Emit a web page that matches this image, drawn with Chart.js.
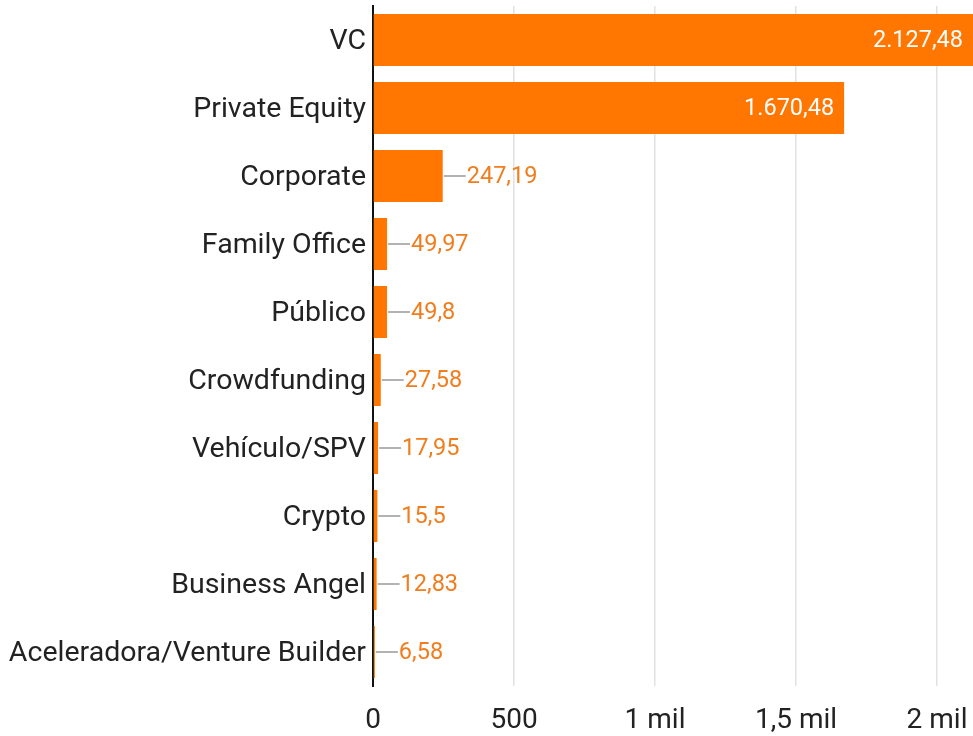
<!DOCTYPE html>
<html><head><meta charset="utf-8">
<script src="https://cdn.jsdelivr.net/npm/chart.js@4.4.1/dist/chart.umd.min.js"></script>
<style>html,body{margin:0;padding:0;background:#fff}#wrap{width:973px;height:736px;position:relative}</style>
</head><body><div id="wrap"><canvas id="c"></canvas></div>
<script>
const categories = ['VC','Private Equity','Corporate','Family Office','Público','Crowdfunding','Vehículo/SPV','Crypto','Business Angel','Aceleradora/Venture Builder'];
const values = [2127.48,1670.48,247.19,49.97,49.8,27.58,17.95,15.5,12.83,6.58];
const valueLabels = ['2.127,48','1.670,48','247,19','49,97','49,8','27,58','17,95','15,5','12,83','6,58'];
const tickValues = [0,500,1000,1500,2000];
const tickLabels = ['0','500','1 mil','1,5 mil','2 mil'];

const ORANGE = '#ff7700';
const FONT = 'Roboto';

const labelPlugin = {
  id: 'valLabels',
  afterDatasetsDraw(chart) {
    const ctx = chart.ctx;
    const meta = chart.getDatasetMeta(0);
    ctx.save();
    ctx.font = '23.5px ' + FONT;
    ctx.textBaseline = 'middle';
    meta.data.forEach((bar, i) => {
      const txt = valueLabels[i];
      const w = ctx.measureText(txt).width;
      const barLen = bar.x - bar.base;
      if (barLen > w + 30) {
        ctx.fillStyle = '#ffffff';
        ctx.textAlign = 'right';
        ctx.fillText(txt, bar.x - 10, bar.y + 1);
      } else {
        ctx.strokeStyle = '#999999';
        ctx.lineWidth = 1.5;
        ctx.beginPath();
        ctx.moveTo(bar.x + 1, bar.y);
        ctx.lineTo(bar.x + 23, bar.y);
        ctx.stroke();
        ctx.fillStyle = '#f07d1e';
        ctx.textAlign = 'left';
        ctx.fillText(txt, bar.x + 24, bar.y + 1);
      }
    });
    ctx.restore();
  }
};

new Chart(document.getElementById('c'), {
  type: 'bar',
  data: {
    labels: categories,
    datasets: [{ data: values, backgroundColor: ORANGE, borderWidth: 0, barPercentage: 0.765, categoryPercentage: 1 }]
  },
  options: {
    indexAxis: 'y',
    responsive: true,
    maintainAspectRatio: false,
    animation: false,
    layout: { padding: { top: 6, right: 0, left: 0, bottom: 0 } },
    plugins: { legend: { display: false }, tooltip: { enabled: false } },
    scales: {
      x: {
        min: 0, max: 2127.48,
        afterBuildTicks(scale) { scale.ticks = tickValues.map(v => ({ value: v })); },
        afterFit(scale) { scale.height = 50; scale.paddingLeft = 0; scale.paddingRight = 0; },
        ticks: {
          font: { family: FONT, size: 28 }, color: '#222',
          padding: 18, maxRotation: 0, autoSkip: false,
          callback(v) { const k = tickValues.indexOf(v); return k >= 0 ? tickLabels[k] : ''; }
        },
        grid: { color: '#e2e2e2', lineWidth: 1.5, drawTicks: false },
        border: { display: false }
      },
      y: {
        afterFit(scale) { scale.width = 373; scale.paddingTop = 0; scale.paddingBottom = 0; },
        ticks: { font: { family: FONT, size: 28.5 }, color: '#222', padding: 7, autoSkip: false, labelOffset: 2 },
        grid: { display: false, drawTicks: false },
        border: { display: true, color: '#111', width: 2 }
      }
    }
  },
  plugins: [labelPlugin]
});
</script></body></html>
